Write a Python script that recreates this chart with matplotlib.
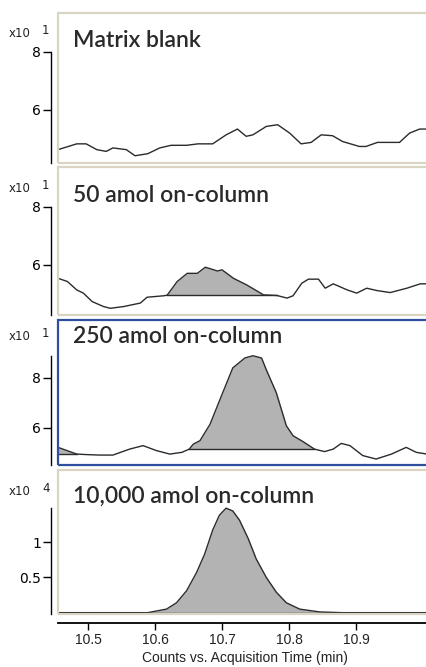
import matplotlib
matplotlib.use("Agg")
import matplotlib.pyplot as plt
from matplotlib.patches import Rectangle
import numpy as np

# --- data (time in min, counts in x10^n) ---
titles = ["Matrix blank", "50 amol on-column", "250 amol on-column", "10,000 amol on-column"]
exponents = ["1", "1", "1", "4"]

t_blank = [10.455, 10.483, 10.497, 10.513, 10.527, 10.537, 10.557, 10.570, 10.589, 10.607,
           10.624, 10.647, 10.664, 10.686, 10.706, 10.723, 10.736, 10.746, 10.766, 10.783,
           10.801, 10.818, 10.833, 10.848, 10.865, 10.880, 10.905, 10.915, 10.932, 10.965,
           10.980, 10.995, 11.006]
y_blank = [4.63, 4.83, 4.83, 4.63, 4.57, 4.69, 4.63, 4.42, 4.49, 4.69,
           4.78, 4.78, 4.83, 4.83, 5.14, 5.34, 5.09, 5.14, 5.43, 5.49,
           5.20, 4.83, 4.88, 5.14, 5.11, 4.91, 4.74, 4.74, 4.88, 4.88,
           5.20, 5.34, 5.34]

t_50 = [10.455, 10.469, 10.483, 10.493, 10.506, 10.523, 10.533, 10.553, 10.578, 10.588,
        10.613, 10.618, 10.633, 10.648, 10.663, 10.675, 10.685, 10.693, 10.700, 10.717,
        10.737, 10.762, 10.782, 10.797, 10.806, 10.819, 10.829, 10.844, 10.854, 10.866,
        10.887, 10.901, 10.916, 10.931, 10.951, 10.976, 10.996, 11.006]
y_50 = [5.54, 5.43, 5.14, 5.03, 4.74, 4.57, 4.51, 4.57, 4.69, 4.89,
        4.94, 4.96, 5.43, 5.71, 5.71, 5.92, 5.85, 5.79, 5.83, 5.54,
        5.31, 4.97, 4.95, 4.86, 4.94, 5.37, 5.51, 5.51, 5.20, 5.35,
        5.14, 5.03, 5.20, 5.12, 5.05, 5.20, 5.35, 5.35]

t_250 = [10.455, 10.483, 10.497, 10.517, 10.537, 10.562, 10.582, 10.602, 10.622, 10.640,
         10.651, 10.657, 10.667, 10.682, 10.699, 10.716, 10.734, 10.746, 10.759, 10.766,
         10.781, 10.796, 10.806, 10.821, 10.838, 10.853, 10.866, 10.878, 10.891, 10.910,
         10.930, 10.953, 10.975, 10.990, 11.006]
y_250 = [5.20, 4.93, 4.91, 4.89, 4.89, 5.13, 5.27, 5.07, 4.93, 5.00,
         5.13, 5.33, 5.47, 6.13, 7.27, 8.40, 8.80, 8.89, 8.80, 8.33,
         7.40, 6.07, 5.67, 5.43, 5.13, 5.03, 5.13, 5.36, 5.27, 4.87,
         4.73, 4.93, 5.20, 5.00, 4.93]

t_10k = [10.455, 10.589, 10.617, 10.632, 10.647, 10.662, 10.674, 10.686, 10.696, 10.706,
         10.716, 10.726, 10.739, 10.751, 10.766, 10.781, 10.796, 10.816, 10.846, 10.880,
         11.006]
y_10k = [0.0, 0.0, 0.05, 0.14, 0.31, 0.57, 0.83, 1.17, 1.38, 1.48,
         1.44, 1.31, 1.05, 0.76, 0.50, 0.29, 0.14, 0.05, 0.01, 0.0,
         0.0]

# integrated peaks: (start, end, baseline level)
peaks = [[], [(10.618, 10.782, 4.95)], [(10.455, 10.483, 4.93), (10.651, 10.838, 5.13)],
         [(10.589, 10.880, 0.0)]]

yticks = [[6, 8], [6, 8], [6, 8], [0.5, 1]]
ytlabels = [["6", "8"], ["6", "8"], ["6", "8"], ["0.5", "1"]]
ylims = [(4.17, 9.34), (4.28, 9.36), (4.49, 10.33), (-0.019, 2.02)]
xticks = [10.5, 10.6, 10.7, 10.8, 10.9]
xlims = (10.455, 11.012)

traces = [(t_blank, y_blank), (t_50, y_50), (t_250, y_250), (t_10k, y_10k)]

W, H = 427, 667
fig = plt.figure(figsize=(W / 100, H / 100), dpi=100)
fig.patch.set_facecolor("white")

# panel boxes in pixels (top, bottom) and text offsets from panel top
boxes = [(13, 163), (167, 315), (320, 465), (470, 614)]
title_off = [34, 35, 23, 33]
mult_off = [24, 25, 20, 25]
frame_cols = ["#d9d5c2", "#d9d5c2", "#2e4e9e", "#d9d5c2"]
line_col = "#2b2b2b"
fill_col = "#b3b3b3"
tick_font = dict(family=["Liberation Sans", "DejaVu Sans"], size=10, color="#222222")

for i in range(4):
    top, bot = boxes[i]
    ax = fig.add_axes([58 / W, 1 - bot / H, (W - 58 + 4) / W, (bot - top) / H])
    t, y = np.array(traces[i][0]), np.array(traces[i][1])
    for (a, b, base) in peaks[i]:
        m = (t >= a) & (t <= b)
        ax.fill_between(t[m], y[m], base, color=fill_col, lw=0, zorder=1)
        ax.plot([a, b], [base, base], color=line_col, lw=1.0, zorder=2)
    ax.plot(t, y, color=line_col, lw=1.0, zorder=3)
    ax.set_xlim(*xlims)
    ax.set_ylim(*ylims[i])
    ax.set_xticks([])
    ax.set_yticks(yticks[i])
    ax.set_yticklabels(ytlabels[i], **tick_font)
    ax.tick_params(axis="y", length=6, width=1, color="black", pad=1)
    for s in ["top", "right", "bottom"]:
        ax.spines[s].set_visible(False)
    ax.spines["left"].set_color("black")
    ax.spines["left"].set_linewidth(1.0)
    ax.spines["left"].set_position(("outward", 5))
    ax.spines["left"].set_bounds(ylims[i][0], max(max(yticks[i]), max(y)))
    ax.add_patch(Rectangle((0, 0), 1, 1, transform=ax.transAxes, fill=False,
                           edgecolor=frame_cols[i], lw=1.6, clip_on=False, zorder=5))
    ax.text(0.04, 1 - title_off[i] / (bot - top), titles[i], transform=ax.transAxes,
            ha="left", va="baseline", fontsize=16.5, fontweight="semibold", color="#2a2a2a",
            family=["Lato", "DejaVu Sans"])
    fig.text(9 / W, 1 - (top + mult_off[i]) / H, "x10", ha="left", va="baseline",
             fontsize=8.5, color="#222222", family=["DejaVu Sans"])
    fig.text(42 / W, 1 - (top + mult_off[i] - 3) / H, exponents[i], ha="left", va="baseline",
             fontsize=8.5, color="#222222", family=["DejaVu Sans"])

# shared time axis below the panels
axx = fig.add_axes([58 / W, 1 - 623 / H, (W - 58 + 4) / W, 0.001])
axx.set_xlim(*xlims)
axx.set_yticks([])
axx.set_xticks(xticks)
axx.set_xticklabels([f"{v:.1f}" for v in xticks], **tick_font)
axx.tick_params(axis="x", length=5, width=1, color="black", pad=2)
for s in ["top", "right", "left"]:
    axx.spines[s].set_visible(False)
axx.spines["bottom"].set_linewidth(1.3)
axx.set_xlabel("Counts vs. Acquisition Time (min)", labelpad=3, **tick_font)

fig.savefig("out.png", dpi=100, facecolor="white")
